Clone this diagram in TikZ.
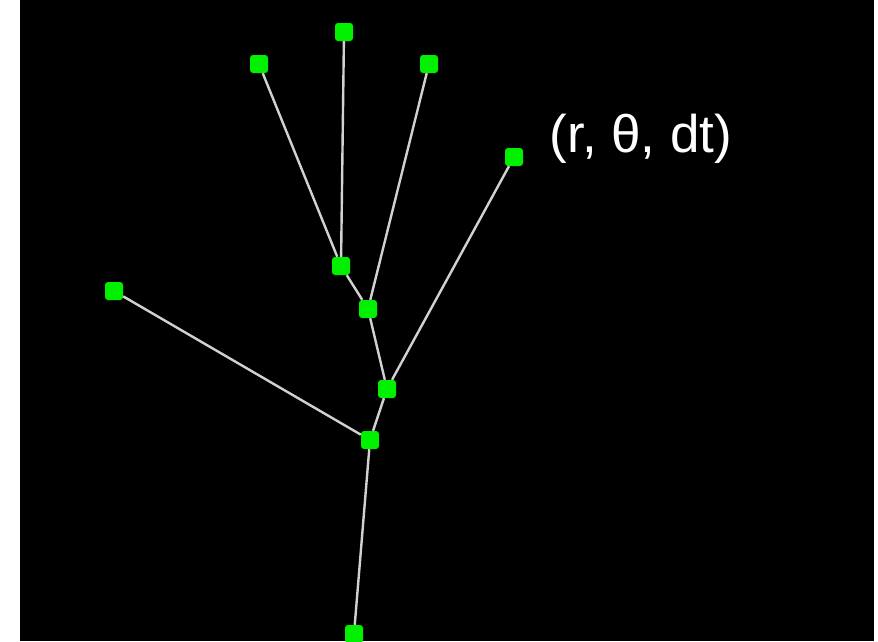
\documentclass[tikz,border=0pt]{standalone}
\usepackage{fontspec}
\setmainfont{Liberation Sans}
\usepackage{xcolor}
\usepackage{tikz}

\definecolor{leafgreen}{RGB}{0,240,0}
\tikzset{
  pt/.style={rectangle,fill=leafgreen,minimum size=18pt,inner sep=0pt,rounded corners=3pt},
  limb/.style={black!18,line width=2.4pt}
}

\begin{document}
\begin{tikzpicture}[x=1pt,y=-1pt]
\useasboundingbox (0,0) rectangle (878,641);
\fill[black] (20,0) rectangle (874,641);
% branch points
\node[pt] (root) at (354,634) {};
\node[pt] (b1) at (370,440) {};
\node[pt] (b2) at (387,389) {};
\node[pt] (b3) at (368,309) {};
\node[pt] (b4) at (341,266) {};
% tips
\node[pt] (tl) at (114,291) {};
\node[pt] (tr) at (514,157) {};
\node[pt] (t1) at (259,64) {};
\node[pt] (t2) at (344,32) {};
\node[pt] (t3) at (429,64) {};
\draw[limb] (root) -- (b1);
\draw[limb] (b1) -- (b2);
\draw[limb] (b1) -- (tl);
\draw[limb] (b2) -- (b3);
\draw[limb] (b2) -- (tr);
\draw[limb] (b3) -- (b4);
\draw[limb] (b3) -- (t3);
\draw[limb] (b4) -- (t1);
\draw[limb] (b4) -- (t2);
\node[white,anchor=base,font=\fontsize{53}{60}\selectfont] (lbl) at (641,152) {(r, θ, dt)};
\end{tikzpicture}
\end{document}
